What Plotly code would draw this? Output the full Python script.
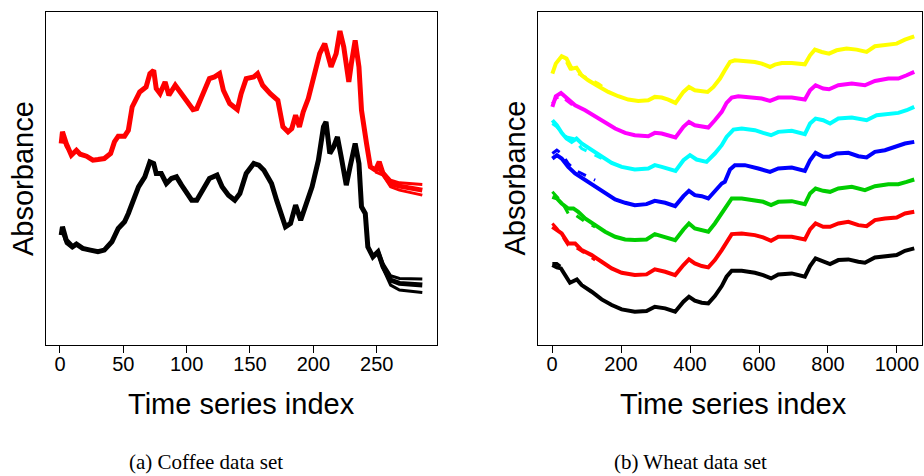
import plotly.graph_objects as go

# ---------------- Coffee data set ----------------
coffee_red_x = [1, 2, 5, 9, 13, 16, 21, 26, 30, 35, 40, 43, 46, 51, 54, 57, 63, 68, 71, 74,
                76, 79, 83, 86, 91, 95, 100, 105, 108, 113, 118, 122, 126, 129, 134, 140, 143, 147, 153, 156,
                160, 166, 172, 176, 180, 183, 186, 189, 192, 196, 200, 205, 209, 212, 214, 218, 221, 224, 228, 230,
                233, 236, 238, 242, 245, 249, 252, 255, 261, 268, 286]
coffee_red = [60.5, 64, 60.5, 57, 58.5, 57.3, 56.7, 55.5, 55.7, 56, 57.5, 61, 62.7, 62.7, 64.5, 71.5, 76, 77.5, 81.5, 82.5,
              77, 75.5, 79, 75, 78, 76, 73.5, 70.7, 71, 75.5, 80, 80.5, 81.5, 76.5, 72.5, 70.7, 75.5, 80, 80.5, 81.5,
              78, 75.5, 73.5, 65.5, 64, 65, 69, 65.5, 70, 74, 79.5, 87.5, 90.5, 86.5, 83.5, 87.5, 94.3, 89.5, 79, 84.5,
              91.5, 83.5, 70.5, 60.5, 53.5, 52.5, 55, 51.5, 48.5, 47.7, 46.5]
coffee_black_x = [1, 2, 5, 10, 13, 18, 24, 30, 35, 41, 46, 51, 54, 58, 62, 67, 71, 74, 76, 80,
                  84, 88, 92, 96, 100, 104, 108, 113, 118, 124, 128, 133, 138, 142, 147, 153, 157, 161, 167, 171,
                  174, 178, 182, 186, 190, 195, 199, 204, 208, 210, 213, 216, 219, 222, 226, 229, 233, 236, 238, 241,
                  243, 247, 251, 255, 261, 268, 286]
coffee_black = [33, 35.5, 31.5, 29.5, 30.3, 29, 28.5, 28, 28.5, 31, 35, 37, 39.5, 44, 47.5, 50.5, 55, 54.5, 51.5, 51.5,
                48.5, 50, 50.5, 48, 46, 43.5, 43.5, 46.5, 50, 51, 47.5, 45, 43.5, 45.5, 51.5, 54.5, 54, 52.5, 48.5, 43.5,
                40.5, 35.5, 36.5, 42, 37.5, 42.5, 47.5, 55.5, 65.5, 67, 57.5, 59.5, 62.5, 56.5, 48, 53.5, 60.5, 54.5, 41.5, 39.5,
                29.5, 26.5, 28, 23.5, 19.5, 18.5, 18]
# spread of the other coffee series at the start and the tail
coffee_red_start_x = [1, 2, 5, 9]
coffee_red_start_alt = [63.5, 62.5, 59.5, 57.5]
coffee_red_tail_x = [249, 255, 261, 268, 286]
coffee_red_tail_hi = [53, 52, 49.5, 48.7, 48.2]
coffee_red_tail_lo = [52, 51, 47.5, 46.5, 45]
coffee_black_start_x = [1, 2, 5, 10]
coffee_black_start_alt = [35, 34, 30.5, 29]
coffee_black_tail_x = [251, 255, 261, 268, 286]
coffee_black_tail_hi = [28.5, 24.5, 20.8, 20, 19.8]
coffee_black_tail_lo = [27.5, 23, 18, 16.5, 15.8]
coffee_ticks = [0, 50, 100, 150, 200, 250]

# ---------------- Wheat data set ----------------
wheat_yellow_x = [1, 11, 28, 42, 57, 71, 86, 105, 134, 163, 192, 221, 250, 279, 298, 318, 337, 358, 381, 397,
                  414, 434, 451, 468, 487, 501, 516, 530, 559, 588, 608, 632, 646, 666, 695, 719, 733, 748, 762, 782,
                  803, 825, 854, 883, 912, 936, 965, 999, 1023, 1050]
wheat_yellow = [81.5, 84.5, 86.7, 86, 83, 83.3, 81, 79.5, 77.7, 76, 74.7, 73.7, 73.3, 73.5, 74.5, 74.3, 73.7, 72.7, 76, 77.5,
                76.5, 76.2, 76, 77.5, 80, 82.5, 85, 85.5, 85.3, 85, 84.5, 83.5, 84.2, 84.7, 84.7, 84.3, 84.3, 87, 88.7, 88,
                87.5, 88.5, 89, 88.7, 88, 89.7, 90.2, 90.5, 91.7, 92.7]
wheat_magenta_x = [1, 11, 26, 42, 67, 96, 125, 154, 183, 212, 240, 279, 298, 318, 337, 358, 381, 397, 414, 434,
                   453, 472, 492, 506, 521, 540, 569, 608, 632, 656, 695, 733, 748, 764, 786, 803, 830, 869, 907, 936,
                   975, 1004, 1028, 1050]
wheat_magenta = [71.5, 74.7, 75.7, 74.3, 72, 70.5, 68.7, 67, 65, 63.7, 63, 62.7, 63.7, 63.5, 63, 62.3, 65.5, 67, 66, 65.5,
                 65.3, 67.5, 70, 72.7, 74.3, 74.7, 74.5, 74, 73.3, 74.3, 74.3, 73.7, 76.5, 78, 77, 76.8, 78, 78.5, 78, 79.3,
                 80, 80, 81, 82]
wheat_cyan_x = [1, 14, 28, 42, 57, 71, 86, 115, 144, 173, 202, 240, 279, 298, 318, 337, 358, 381, 400, 419,
                448, 472, 492, 506, 526, 550, 588, 612, 635, 656, 695, 733, 748, 764, 786, 806, 830, 869, 912, 941,
                975, 1004, 1028, 1050]
wheat_cyan = [67.5, 66, 63.7, 62, 61, 62, 60.5, 58.5, 56.5, 54.7, 53.5, 52.7, 53, 54, 53.5, 53, 52.3, 55.5, 57, 55.7,
              55, 57.5, 60, 62.5, 64.7, 65, 64.5, 63.7, 63, 64, 64.3, 63.3, 66.5, 68, 67.5, 66.5, 68, 68.3, 67.5, 69,
              69.5, 69.7, 70.5, 71.5]
wheat_blue_x = [1, 14, 28, 47, 67, 96, 125, 154, 183, 212, 240, 274, 298, 328, 357, 381, 397, 414, 434, 453,
                472, 492, 501, 516, 530, 559, 598, 632, 656, 695, 733, 748, 764, 786, 803, 825, 859, 888, 912, 936,
                965, 994, 1023, 1050]
wheat_blue = [56, 57, 56, 53.5, 51.5, 49.5, 47.5, 45.5, 43.7, 42.7, 42, 42.3, 43.3, 42.7, 41.7, 44.7, 46.3, 45, 44.7, 44,
              46, 48.5, 49, 52.7, 54, 54, 53, 52, 53, 53.3, 52.3, 55.5, 57.7, 56.5, 56.5, 57.5, 57.7, 56.7, 56.3, 58,
              58.5, 59.5, 60.5, 61]
wheat_green_x = [1, 14, 28, 47, 62, 76, 96, 125, 154, 183, 212, 240, 274, 298, 328, 357, 381, 397, 414, 434,
                 453, 472, 492, 506, 521, 550, 588, 612, 635, 656, 695, 733, 748, 764, 786, 806, 830, 869, 907, 936,
                 975, 1004, 1028, 1050]
wheat_green = [44.5, 44, 42.5, 41, 41, 40, 38, 36, 34, 32.5, 31.7, 31.5, 31.7, 33.3, 32.5, 31.5, 34.7, 36.5, 35, 34.5,
               34, 36.5, 39.5, 42, 44, 44, 43.5, 43, 42, 43, 43.2, 42.3, 45.5, 47, 46.3, 46, 47, 47.5, 46.5, 47.7,
               48.3, 48.3, 49, 49.7]
wheat_red_x = [1, 14, 28, 47, 67, 86, 115, 144, 173, 202, 240, 274, 298, 328, 357, 381, 397, 414, 434, 453,
               472, 492, 506, 521, 550, 588, 612, 635, 656, 695, 733, 748, 764, 786, 806, 830, 859, 888, 912, 936,
               965, 999, 1023, 1050]
wheat_red = [35.5, 34.5, 33.5, 30.5, 30.5, 28.5, 27, 25, 23, 21.7, 21, 21.2, 22.7, 22, 21, 24, 25.7, 24.5, 23.7, 23.3,
             25.5, 28.5, 31, 33.3, 33.5, 33, 32.3, 31.3, 32.5, 32.5, 31.7, 34.7, 36.5, 35.5, 35.5, 36.5, 37, 36, 35.7, 37.5,
             38, 38.3, 39.5, 40]
wheat_black_x = [1, 14, 26, 38, 52, 72, 86, 115, 144, 173, 202, 240, 274, 298, 328, 357, 381, 397, 414, 434,
                 453, 472, 492, 506, 521, 550, 588, 612, 635, 656, 695, 733, 748, 764, 786, 806, 830, 859, 888, 907,
                 936, 965, 999, 1023, 1050]
wheat_black = [24, 23.3, 23, 21, 18.7, 19.7, 18, 16, 13.7, 12, 10.7, 10, 10.2, 11.5, 11, 10, 13, 14.5, 13.3, 12.7,
               12.5, 14.7, 17.7, 20.5, 22.3, 22.3, 21.7, 21, 20, 21.2, 21.5, 20.5, 23.7, 26, 25, 24.3, 25.5, 25.7, 25, 24.7,
               26.3, 26.7, 27, 28.3, 29]
# secondary strands visible near the start of the wheat series
wheat_yellow_alt_x = [42, 57, 76, 105, 134, 163]
wheat_yellow_alt = [85, 82, 81.5, 80, 78.5, 76.5]
wheat_magenta_alt_x = [1, 11, 26, 42, 67]
wheat_magenta_alt = [72.5, 74, 75, 73.5, 71.5]
wheat_cyan_alt_x = [1, 14, 42, 62, 86, 115, 144]
wheat_cyan_alt = [66.5, 65.5, 62.5, 62, 59, 57.5, 56]
wheat_blue_alt_x = [1, 14, 28, 47, 67, 96, 125]
wheat_blue_alt = [57.5, 58.5, 57.5, 54.5, 52.5, 51, 49.5]
wheat_green_alt_x = [1, 28, 47, 62, 96, 125]
wheat_green_alt = [46, 43, 39.5, 39.5, 37, 35.5]
wheat_red_alt_x = [1, 14, 28, 47, 67, 96, 125]
wheat_red_alt = [36.5, 35, 33, 30, 29.5, 27.5, 25.5]
wheat_black_alt_x = [1, 14, 26, 38]
wheat_black_alt = [24.5, 24.5, 23.5, 21.5]
wheat_ticks = [0, 200, 400, 600, 800, 1000]

W, H = 924, 476

fig = go.Figure()


def add(x, y, color, width, ax, dash="solid"):
    fig.add_trace(go.Scatter(x=x, y=y, mode="lines", xaxis=ax[0], yaxis=ax[1],
                             line=dict(color=color, width=width, dash=dash),
                             hoverinfo="skip", showlegend=False))


c_ax = ("x", "y")
add(coffee_red_x, coffee_red, "#ff0000", 5, c_ax)
add(coffee_red_start_x, coffee_red_start_alt, "#ff0000", 3, c_ax)
add(coffee_red_tail_x, coffee_red_tail_hi, "#ff0000", 3, c_ax)
add(coffee_red_tail_x, coffee_red_tail_lo, "#ff0000", 3, c_ax)
add(coffee_black_x, coffee_black, "#000000", 5, c_ax)
add(coffee_black_start_x, coffee_black_start_alt, "#000000", 3, c_ax)
add(coffee_black_tail_x, coffee_black_tail_hi, "#000000", 3, c_ax)
add(coffee_black_tail_x, coffee_black_tail_lo, "#000000", 3, c_ax)

w_ax = ("x2", "y2")
wheat = [
    (wheat_yellow_x, wheat_yellow, wheat_yellow_alt_x, wheat_yellow_alt, "#ffff00"),
    (wheat_magenta_x, wheat_magenta, wheat_magenta_alt_x, wheat_magenta_alt, "#ff00ff"),
    (wheat_cyan_x, wheat_cyan, wheat_cyan_alt_x, wheat_cyan_alt, "#00ffff"),
    (wheat_blue_x, wheat_blue, wheat_blue_alt_x, wheat_blue_alt, "#0000ff"),
    (wheat_green_x, wheat_green, wheat_green_alt_x, wheat_green_alt, "#00cd00"),
    (wheat_red_x, wheat_red, wheat_red_alt_x, wheat_red_alt, "#ff0000"),
    (wheat_black_x, wheat_black, wheat_black_alt_x, wheat_black_alt, "#000000"),
]
for xs, ys, axs, ays, col in wheat:
    add(xs, ys, col, 4, w_ax)
    add(axs, ays, col, 3, w_ax, dash="dash")


def px(v):
    return v / W


def py(v):
    return 1 - v / H


tickfont = dict(family="Liberation Sans, Arial, sans-serif", size=20, color="black")
axis_common = dict(showline=True, mirror=True, linecolor="black", linewidth=1,
                   showgrid=False, zeroline=False)

fig.update_layout(
    width=W, height=H,
    margin=dict(l=0, r=0, t=0, b=0),
    paper_bgcolor="white", plot_bgcolor="white",
    showlegend=False,
    xaxis=dict(domain=[px(46), px(437)], range=[-11, 297.6], anchor="y",
               tickmode="array", tickvals=coffee_ticks, ticks="outside", ticklen=7,
               tickwidth=1, tickcolor="black", tickfont=tickfont, ticklabelstandoff=-6,
               **axis_common),
    yaxis=dict(domain=[py(345), py(12)], range=[0, 100], anchor="x",
               showticklabels=False, ticks="", **axis_common),
    xaxis2=dict(domain=[px(538), px(922)], range=[-40.6, 1072.5], anchor="y2",
                tickmode="array", tickvals=wheat_ticks, ticks="outside", ticklen=7,
                tickwidth=1, tickcolor="black", tickfont=tickfont, ticklabelstandoff=-6,
                **axis_common),
    yaxis2=dict(domain=[py(345), py(12)], range=[0, 100], anchor="x2",
                showticklabels=False, ticks="", **axis_common),
)

title_font = dict(family="Liberation Sans, Arial, sans-serif", size=29, color="black")
cap_font = dict(family="Liberation Serif, Times New Roman, serif", size=21, color="black")
annots = [
    dict(text="Time series index", x=px(241.5), y=py(404), font=title_font, yanchor="middle"),
    dict(text="Time series index", x=px(733), y=py(404), font=title_font, yanchor="middle"),
    dict(text="Absorbance", x=px(22.5), y=py(178.5), font=title_font, textangle=-90, yanchor="middle"),
    dict(text="Absorbance", x=px(514), y=py(178.5), font=title_font, textangle=-90, yanchor="middle"),
    dict(text="(a) Coffee data set", x=px(206), y=py(475.5), font=cap_font, yanchor="bottom"),
    dict(text="(b) Wheat data set", x=px(690), y=py(475.5), font=cap_font, yanchor="bottom"),
]
for a in annots:
    fig.add_annotation(xref="paper", yref="paper", xanchor="center",
                       showarrow=False, **a)

fig.write_html("out.html", config={"displayModeBar": False},
               post_script="document.body.style.margin='0';")
